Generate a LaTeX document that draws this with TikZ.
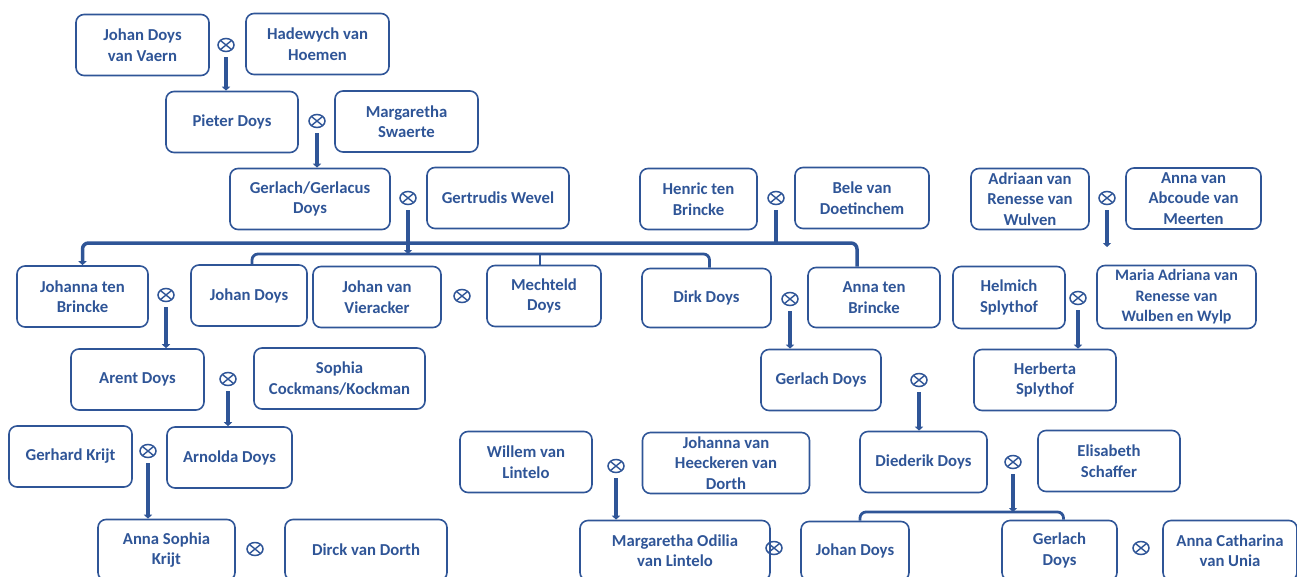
\documentclass[tikz,border=0pt]{standalone}
\usepackage{fontspec}
\setmainfont{Carlito}
\usetikzlibrary{arrows.meta}
\usetikzlibrary{shapes.geometric}
\definecolor{famblue}{RGB}{47,85,151}

\begin{document}
\begin{tikzpicture}[x=1pt,y=-1pt,
  person/.style={draw=famblue, line width=1.6pt, rounded corners=8pt, align=center, text=famblue,
    font=\fontsize{16.7}{20.5}\selectfont\bfseries, minimum height=61pt, inner sep=2pt},
  marry/.style={ellipse, draw=famblue, line width=1.5pt, minimum width=16pt, minimum height=13pt, inner sep=0pt,
    path picture={\draw[famblue, line width=1.4pt]
      (path picture bounding box.north west) -- (path picture bounding box.south east)
      (path picture bounding box.north east) -- (path picture bounding box.south west);}},
  kid/.style={draw=famblue, line width=3.5pt, -{Triangle[width=8pt,length=4pt]}, shorten <=5pt},
  famline/.style={draw=famblue, line width=3.5pt, rounded corners=6pt}]

\useasboundingbox (0,0) rectangle (1297,576);

% people
{
\node[person] (jdv) at (142.5,45) [minimum width=133pt] {Johan Doys\\van Vaern};
\node[person] (hvh) at (317.5,44) [minimum width=143pt] {Hadewych van\\Hoemen};
\node[person] (pieter) at (232,122) [minimum width=132pt] {Pieter Doys};
\node[person] (mswa) at (406.5,121.5) [minimum width=143pt] {Margaretha\\Swaerte};
\node[person] (gerlachA) at (310,199) [minimum width=160pt] {Gerlach/Gerlacus\\Doys};
\node[person] (gwevel) at (498,198) [minimum width=142pt] {Gertrudis Wevel};
\node[person] (henric) at (698.5,199) [minimum width=117pt] {Henric ten\\Brincke};
\node[person] (bele) at (862,198) [minimum width=134pt] {Bele van\\Doetinchem};
\node[person] (adriaan) at (1030,199) [minimum width=118pt] {Adriaan van\\Renesse van\\Wulven};
\node[person] (annaab) at (1193.5,198.5) [minimum width=135pt] {Anna van\\Abcoude van\\Meerten};

\node[person] (johanna) at (82.5,296.5) [minimum width=131pt] {Johanna ten\\Brincke};
\node[person] (johanA) at (249,295.5) [minimum width=116pt] {Johan Doys};
\node[person] (vieracker) at (377,297) [minimum width=128pt] {Johan van\\Vieracker};
\node[person] (mechteld) at (544,296) [minimum width=114pt] {Mechteld\\Doys};
\node[person] (dirk) at (706.5,298) [minimum width=129pt, minimum height=59pt] {Dirk Doys};
\node[person] (annatb) at (874,297.5) [minimum width=132pt, minimum height=60pt] {Anna ten\\Brincke};
\node[person] (helmich) at (1009,297.5) [minimum width=112pt, minimum height=62pt] {Helmich\\Splythof};
\node[person] (maria) at (1176.5,297) [minimum width=159pt, minimum height=63pt, font=\fontsize{16}{20.5}\selectfont\bfseries] {Maria Adriana van\\Renesse van\\Wulben en Wylp};

\node[person] (arent) at (137.5,379.5) [minimum width=133pt] {Arent Doys};
\node[person] (sophia) at (339.5,378.5) [minimum width=171pt] {Sophia\\Cockmans/Kockman};
\node[person] (gerlachB) at (821,380) [minimum width=120pt] {Gerlach Doys};
\node[person] (herberta) at (1045,380) [minimum width=142pt] {Herberta\\Splythof};

\node[person] (gerhard) at (70.5,456.5) [minimum width=123pt] {Gerhard Krijt};
\node[person] (arnolda) at (229.5,457.5) [minimum width=125pt] {Arnolda Doys};
\node[person] (willem) at (526,462) [minimum width=132pt] {Willem van\\Lintelo};
\node[person] (jvh) at (726,463) [minimum width=167pt] {Johanna van\\Heeckeren van\\Dorth};
\node[person] (diederik) at (923.5,462) [minimum width=127pt] {Diederik Doys};
\node[person] (elisabeth) at (1109,461) [minimum width=142pt] {Elisabeth\\Schaffer};

\node[person] (ask) at (166.5,550) [minimum width=137pt] {Anna Sophia\\Krijt};
\node[person] (dirck) at (366,550) [minimum width=162pt] {Dirck van Dorth};
\node[person] (mol) at (675,550.5) [minimum width=190pt, minimum height=60pt] {Margaretha Odilia\\van Lintelo};
\node[person] (johanB) at (855,551) [minimum width=108pt, minimum height=59pt] {Johan Doys};
\node[person] (gerlachC) at (1059.5,550.5) [minimum width=115pt, minimum height=60pt] {Gerlach\\Doys};
\node[person] (acu) at (1230,550.5) [minimum width=134pt, minimum height=60pt] {Anna Catharina\\van Unia};
}

% marriages
{
\node[marry] (m1) at (226,45) {};
\node[marry] (m2) at (317,121) {};
\node[marry] (m3) at (408,198) {};
\node[marry] (m4) at (776,198) {};
\node[marry] (m5) at (1107,198) {};
\node[marry] (m6) at (166,295) {};
\node[marry] (m7) at (462,296) {};
\node[marry] (m8) at (790,299) {};
\node[marry] (m9) at (1078,298) {};
\node[marry] (m10) at (228,379) {};
\node[marry] (m11) at (919,380) {};
\node[marry] (m12) at (148,451) {};
\node[marry] (m13) at (616,466) {};
\node[marry] (m14) at (1013,462) {};
\node[marry] (m15) at (255,549) {};
\node[marry] (m16) at (774,548) {};
\node[marry] (m17) at (1141,548) {};
}

% descent
\coordinate (barA) at (0,243);
\coordinate (barB) at (0,254);
\coordinate (barC) at (0,512);
\coordinate (loose) at (1107,247);

\draw[kid] (m1.south) -- (m1.south |- pieter.north);
\draw[kid] (m2.south) -- (m2.south |- gerlachA.north);
\draw[kid] (m5.south) -- (loose);
\draw[kid] (m6.south) -- (m6.south |- arent.north);
\draw[kid] (m8.south) -- (m8.south |- gerlachB.north);
\draw[kid] (m9.south) -- (m9.south |- herberta.north);
\draw[kid] (m10.south) -- (m10.south |- arnolda.north);
\draw[kid] (m11.south) -- (m11.south |- diederik.north);
\draw[kid] (m12.south) -- (m12.south |- ask.north);
\draw[kid] (m13.south) -- (m13.south |- mol.north);

% ten Brincke children
\draw[famline, shorten <=5pt] (m4.south) -- (m4.south |- barA);
\draw[famline, -{Triangle[width=8pt,length=4pt]}] ([xshift=-17pt]annatb.north) |- (johanna.north |- barA) -- (johanna.north);

% Doys children
\draw[famline, line width=2.8pt] ([xshift=3pt]johanA.north) |- ([xshift=3pt]dirk.north |- barB) -- ([xshift=3pt]dirk.north);
\draw[famline, line width=2.8pt] ([xshift=-4pt]mechteld.north) -- ([xshift=-4pt]mechteld.north |- barB);
\draw[kid] (m3.south) -- (m3.south |- barB);

\draw[famline, line width=2.8pt] ([xshift=5pt]johanB.north) |- ([xshift=4pt]gerlachC.north |- barC) -- ([xshift=4pt]gerlachC.north);
\draw[kid] (m14.south) -- (m14.south |- barC);

\end{tikzpicture}
\end{document}
